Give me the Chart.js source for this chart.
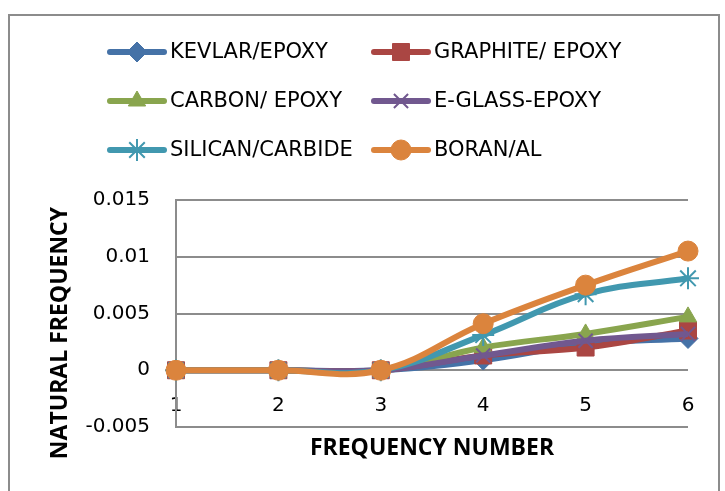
<!DOCTYPE html>
<html>
<head>
<meta charset="utf-8">
<script src="https://cdn.jsdelivr.net/npm/chart.js@4.4.1/dist/chart.umd.min.js"></script>
<style>
  html, body { margin: 0; padding: 0; background: #ffffff; }
  #wrap { width: 725px; height: 491px; position: relative; }
</style>
</head>
<body>
<div id="wrap"><canvas id="chart"></canvas></div>
<script>
// Frequency numbers along the x axis
const frequencyNumbers = ['1', '2', '3', '4', '5', '6'];

// Natural frequency of each material, per frequency number
const kevlarEpoxy     = [0, 0, 0, 0.0009, 0.0023, 0.0028];
const graphiteEpoxy   = [0, 0, 0, 0.0013, 0.0020, 0.0035];
const carbonEpoxy     = [0, 0, 0, 0.0020, 0.0032, 0.0047];
const eGlassEpoxy     = [0, 0, 0, 0.0013, 0.0026, 0.0032];
const silicanCarbide  = [0, 0, 0, 0.0031, 0.0067, 0.0081];
const boranAl         = [0, 0, 0, 0.0041, 0.0075, 0.0105];

// Y axis tick values
const naturalFrequencyTicks = [-0.005, 0, 0.005, 0.01, 0.015];

const TEXT_FONT = "'DejaVu Sans', 'Noto Sans', sans-serif";
const TITLE_FONT = "'Open Sans', 'Noto Sans', sans-serif";

const seriesDefs = [
  { label: 'KEVLAR/EPOXY',    data: kevlarEpoxy,    color: '#4572A7', style: 'rectRot',  radius: 10, order: 5 },
  { label: 'GRAPHITE/ EPOXY', data: graphiteEpoxy,  color: '#AA4643', style: 'rect',     radius: 12, order: 4 },
  { label: 'CARBON/ EPOXY',   data: carbonEpoxy,    color: '#89A54E', style: 'triangle', radius: 10, order: 3 },
  { label: 'E-GLASS-EPOXY',   data: eGlassEpoxy,    color: '#71588F', style: 'crossRot', radius: 10, order: 2 },
  { label: 'SILICAN/CARBIDE', data: silicanCarbide, color: '#4198AF', style: 'star',     radius: 11, order: 1 },
  { label: 'BORAN/AL',        data: boranAl,        color: '#DB843D', style: 'circle',   radius: 10, order: 0 }
];

const datasets = seriesDefs.map(s => ({
  label: s.label,
  data: s.data,
  borderColor: s.color,
  backgroundColor: s.color,
  borderWidth: 6,
  pointStyle: s.style,
  pointRadius: s.radius,
  pointHoverRadius: s.radius,
  pointBorderWidth: (s.style === 'star' || s.style === 'crossRot') ? 2 : 1,
  pointBorderColor: s.color,
  pointBackgroundColor: s.color,
  tension: 0.4,
  order: s.order
}));

// Outer frame of the chart
const framePlugin = {
  id: 'frame',
  beforeDraw(chart) {
    const ctx = chart.ctx;
    ctx.save();
    ctx.fillStyle = '#ffffff';
    ctx.fillRect(0, 0, chart.width, chart.height);
    ctx.strokeStyle = '#8c8c8c';
    ctx.lineWidth = 2;
    ctx.strokeRect(9, 15, 710, 500);
    ctx.restore();
  }
};

// Two-column legend with line-and-marker samples, plus the rotated y title
const legendPlugin = {
  id: 'lineLegend',
  afterDraw(chart) {
    const ctx = chart.ctx;
    const cols = [110, 374];
    const rows = [52, 101, 150];
    ctx.save();
    chart.data.datasets.forEach((ds, i) => {
      const x = cols[i % 2];
      const y = rows[Math.floor(i / 2)];
      ctx.strokeStyle = ds.borderColor;
      ctx.lineWidth = 6;
      ctx.lineCap = 'round';
      ctx.beginPath();
      ctx.moveTo(x, y);
      ctx.lineTo(x + 54, y);
      ctx.stroke();
      ctx.lineCap = 'butt';
      ctx.fillStyle = ds.backgroundColor;
      ctx.strokeStyle = ds.borderColor;
      ctx.lineWidth = ds.pointBorderWidth;
      Chart.helpers.drawPoint(ctx, {
        pointStyle: ds.pointStyle,
        radius: ds.pointRadius,
        rotation: 0,
        borderWidth: ds.pointBorderWidth
      }, x + 27, y);
      ctx.fillStyle = '#000000';
      ctx.font = `21px ${TEXT_FONT}`;
      ctx.textAlign = 'left';
      ctx.textBaseline = 'middle';
      ctx.fillText(ds.label, x + 60, y + 1);
    });

    ctx.translate(60, 333);
    ctx.rotate(-Math.PI / 2);
    ctx.font = `bold 23px ${TITLE_FONT}`;
    ctx.fillStyle = '#000000';
    ctx.textAlign = 'center';
    ctx.textBaseline = 'middle';
    ctx.fillText('NATURAL FREQUENCY', 0, 0);
    ctx.restore();
  }
};

new Chart(document.getElementById('chart'), {
  type: 'line',
  data: { labels: frequencyNumbers, datasets },
  plugins: [framePlugin, legendPlugin],
  options: {
    responsive: true,
    maintainAspectRatio: false,
    animation: false,
    devicePixelRatio: 1,
    layout: { padding: { top: 200, right: 37, bottom: 0, left: 0 } },
    plugins: {
      legend: { display: false },
      tooltip: { enabled: false }
    },
    scales: {
      // category axis crossing the value axis at zero
      x: {
        type: 'category',
        position: { y: 0 },
        offset: false,
        grid: { display: false, drawTicks: false },
        border: { display: false },
        ticks: {
          color: '#000000',
          font: { family: TEXT_FONT, size: 20 },
          padding: 24,
          maxRotation: 0
        }
      },
      // bottom axis carrying the category title
      xTitle: {
        type: 'category',
        position: 'bottom',
        offset: false,
        afterFit(scale) { scale.height = 64; },
        grid: { display: false, drawTicks: false },
        border: { display: false },
        ticks: { display: false },
        title: {
          display: true,
          text: 'FREQUENCY NUMBER',
          color: '#000000',
          font: { family: TITLE_FONT, size: 23, weight: 'bold' },
          padding: { top: 0, bottom: 29 }
        }
      },
      y: {
        min: -0.005,
        max: 0.015,
        afterFit(scale) { scale.width = 176; },
        afterBuildTicks(scale) {
          scale.ticks = naturalFrequencyTicks.map(v => ({ value: v }));
        },
        grid: { color: '#8c8c8c', lineWidth: 2, drawTicks: false },
        border: { display: true, color: '#8c8c8c', width: 2 },
        ticks: {
          color: '#000000',
          font: { family: TEXT_FONT, size: 20 },
          padding: 26,
          callback: v => String(v)
        }
      }
    }
  }
});
</script>
</body>
</html>
